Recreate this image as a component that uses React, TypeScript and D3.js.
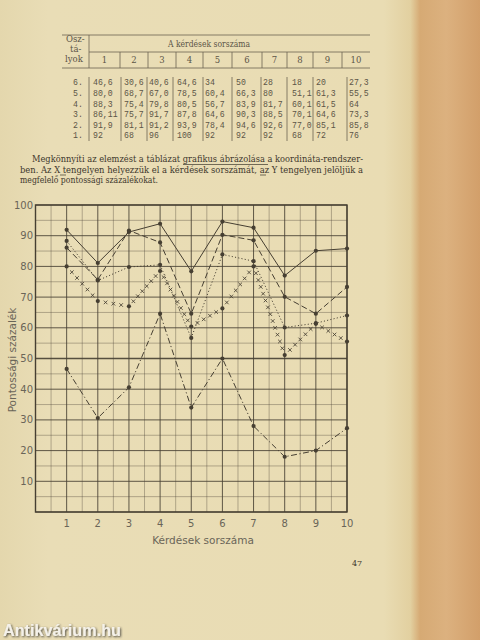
import React from 'react';
import * as d3 from 'd3';

const W = 480;
const H = 640;

// table data, as printed (comma decimals)
const questions = [1, 2, 3, 4, 5, 6, 7, 8, 9, 10];
const classes = ['6.', '5.', '4.', '3.', '2.', '1.'];
const row6 = ['46,6', '30,6', '40,6', '64,6', '34', '50', '28', '18', '20', '27,3'];
const row5 = ['80,0', '68,7', '67,0', '78,5', '60,4', '66,3', '80', '51,1', '61,3', '55,5'];
const row4 = ['88,3', '75,4', '79,8', '80,5', '56,7', '83,9', '81,7', '60,1', '61,5', '64'];
const row3 = ['86,11', '75,7', '91,7', '87,8', '64,6', '90,3', '88,5', '70,1', '64,6', '73,3'];
const row2 = ['91,9', '81,1', '91,2', '93,9', '78,4', '94,6', '92,6', '77,0', '85,1', '85,8'];
const row1 = ['92', '68', '96', '100', '92', '92', '92', '68', '72', '76'];
const yTicks = [10, 20, 30, 40, 50, 60, 70, 80, 90, 100];

const tableRows = [row6, row5, row4, row3, row2, row1];
const num = (s: string) => parseFloat(s.replace(',', '.'));

const ink = '#463f32';
const soft = '#5c5547';

// table geometry
const colEdges = [89, 120, 148, 176, 203, 232, 262, 287, 313, 342, 370];
const dataSep = [89, 121, 147, 173, 203, 232, 261, 287, 313, 347];
const cellX = [93, 124, 149, 177, 205, 236, 263, 292, 316, 349];
const rowY = [85, 96, 107, 117, 128, 138];

// chart geometry
const x = d3.scaleLinear().domain([0, 10]).range([35.5, 347]);
const y = d3.scaleLinear().domain([0, 100]).range([512, 205]);

const lineGen = d3.line<number>().x((d, i) => x(questions[i])).y(d => y(d));

function Crosses({ vals }: { vals: number[] }) {
  const pts = vals.map((v, i) => [x(questions[i]), y(v)]);
  const out: JSX.Element[] = [];
  for (let i = 0; i < pts.length - 1; i++) {
    const [x0, y0] = pts[i];
    const [x1, y1] = pts[i + 1];
    const len = Math.hypot(x1 - x0, y1 - y0);
    const n = Math.max(2, Math.round(len / 7.2));
    for (let k = 1; k < n; k++) {
      const t = k / n;
      const cx = x0 + (x1 - x0) * t;
      const cy = y0 + (y1 - y0) * t;
      const s = 1.8;
      out.push(
        <g key={`${i}-${k}`} stroke={ink} strokeWidth={0.85}>
          <line x1={cx - s} y1={cy - s} x2={cx + s} y2={cy + s} />
          <line x1={cx - s} y1={cy + s} x2={cx + s} y2={cy - s} />
        </g>
      );
    }
  }
  return <g>{out}</g>;
}

const series = [
  { vals: row2.map(num), dash: 'none' },
  { vals: row3.map(num), dash: '6,3' },
  { vals: row4.map(num), dash: '1.1,2.2' },
  { vals: row6.map(num), dash: '6,2.5,1.2,2.5' },
];

export default function App() {
  const vGrid = d3.range(0, 10.01, 0.5);
  const hGrid = d3.range(0, 100.01, 5);
  const crossVals = row5.map(num);

  const para = [
    { t: 'Megkönnyíti az elemzést a táblázat grafikus ábrázolása a koordináta-rendszer-', x: 32, w: 331 },
    { t: 'ben. Az X tengelyen helyezzük el a kérdések sorszámát, az Y tengelyen jelöljük a', x: 20, w: 343 },
    { t: 'megfelelő pontossági százalékokat.', x: 20, w: 138 },
  ];

  return (
    <svg width={W} height={H} style={{ position: 'absolute', left: 0, top: 0 }}>
      <defs>
        <linearGradient id="paper" x1="0" x2="1" y1="0" y2="0">
          <stop offset="0" stopColor="#e4d7ad" />
          <stop offset="0.1" stopColor="#e9ddb6" />
          <stop offset="0.8" stopColor="#e9dcb3" />
          <stop offset="0.855" stopColor="#e2d0a0" />
          <stop offset="0.875" stopColor="#d6aa74" />
          <stop offset="0.93" stopColor="#dcb17f" />
          <stop offset="1" stopColor="#d29f6a" />
        </linearGradient>
        <filter id="shadow" x="-10%" y="-30%" width="130%" height="160%">
          <feDropShadow dx="1" dy="1" stdDeviation="1.2" floodColor="#222" floodOpacity="0.8" />
        </filter>
      </defs>
      <rect width={W} height={H} fill="url(#paper)" />

      {/* table */}
      <g stroke="#6b6252" strokeWidth={0.8}>
        <line x1={62} x2={370} y1={35} y2={35} />
        <line x1={89} x2={370} y1={52} y2={52} />
        <line x1={62} x2={370} y1={68} y2={68} />
        {colEdges.slice(0, 10).map((cx, i) => (
          <line key={'h' + i} x1={cx} x2={cx} y1={i === 0 ? 35 : 52} y2={68} />
        ))}
        {dataSep.map((cx, i) => (
          <line key={'d' + i} x1={cx} x2={cx} y1={77} y2={141} />
        ))}
      </g>
      <g fontFamily="'DejaVu Serif', serif" fill={soft} fontSize={8.5}>
        <text x={66} y={42}>Osz-</text>
        <text x={70} y={52}>tá-</text>
        <text x={65} y={62}>lyok</text>
        <text x={209} y={47} textAnchor="middle" textLength={82} lengthAdjust="spacingAndGlyphs">
          A kérdések sorszáma
        </text>
        {questions.map((q, i) => (
          <text key={q} x={(colEdges[i] + colEdges[i + 1]) / 2} y={63} textAnchor="middle">
            {q}
          </text>
        ))}
      </g>
      <g fontFamily="'Liberation Mono', monospace" fill={soft} fontSize={8.2}>
        {classes.map((c, r) => (
          <text key={c} x={73} y={rowY[r]}>{c}</text>
        ))}
        {tableRows.map((row, r) =>
          row.map((s, i) => (
            <text key={r + '-' + i} x={cellX[i]} y={rowY[r]}>{s}</text>
          ))
        )}
      </g>

      {/* paragraph */}
      <g fontFamily="'DejaVu Serif', serif" fill="#3e382d" fontSize={8.6}>
        {para.map((p, i) => (
          <text key={i} x={p.x} y={162 + i * 10.5} textLength={p.w} lengthAdjust="spacingAndGlyphs">
            {p.t}
          </text>
        ))}
      </g>
      <g stroke="#3e382d" strokeWidth={0.7}>
        <line x1={183} x2={268} y1={164.5} y2={164.5} />
        <line x1={60} x2={66} y1={175} y2={175} />
        <line x1={260} x2={266} y1={175} y2={175} />
      </g>

      {/* grid */}
      <g stroke={ink} fill="none">
        {vGrid.map(v => (
          <line key={'v' + v} x1={x(v)} x2={x(v)} y1={y(100)} y2={y(0)}
            strokeWidth={v % 1 === 0 ? 0.95 : 0.6} strokeOpacity={v % 1 === 0 ? 0.9 : 0.6} />
        ))}
        {hGrid.map(v => (
          <line key={'h' + v} x1={x(0)} x2={x(10)} y1={y(v)} y2={y(v)}
            strokeWidth={v === 50 ? 1.7 : v % 10 === 0 ? 0.95 : 0.6}
            strokeOpacity={v % 10 === 0 ? 0.9 : 0.6} />
        ))}
        <rect x={x(0)} y={y(100)} width={x(10) - x(0)} height={y(0) - y(100)} strokeWidth={1.4} />
      </g>

      {/* series */}
      <g fill="none" stroke={ink} strokeWidth={1}>
        {series.map((s, i) => (
          <path key={i} d={lineGen(s.vals) || ''} strokeDasharray={s.dash} />
        ))}
      </g>
      <Crosses vals={crossVals} />
      <g fill={ink}>
        {[...series.map(s => s.vals), crossVals].map((vals, si) =>
          vals.map((v, i) => (
            <circle key={si + '-' + i} cx={x(questions[i])} cy={y(v)} r={2.1} />
          ))
        )}
      </g>

      {/* axes labels */}
      <g fontFamily="'DejaVu Sans', sans-serif" fill="#6a6558" fontSize={10}>
        {yTicks.map(t => (
          <text key={t} x={33} y={y(t) + 3.5} textAnchor="end">{t}</text>
        ))}
        {questions.map(q => (
          <text key={q} x={x(q)} y={527} textAnchor="middle">{q}</text>
        ))}
        <text x={203} y={544} textAnchor="middle" fontSize={10.5}>Kérdések sorszáma</text>
        <text transform="translate(16,360) rotate(-90)" textAnchor="middle" fontSize={10.5}>
          Pontossági százalék
        </text>
      </g>

      <text x={357} y={566} fontFamily="'DejaVu Serif', serif" fontSize={8} fill="#3e382d" textAnchor="middle">47</text>

      <text x={3} y={636} fontFamily="'Liberation Sans', sans-serif" fontWeight="bold" fontSize={16}
        fill="#f4f1ea" textLength={118} lengthAdjust="spacingAndGlyphs" filter="url(#shadow)">
        Antikvárium.hu
      </text>
    </svg>
  );
}
